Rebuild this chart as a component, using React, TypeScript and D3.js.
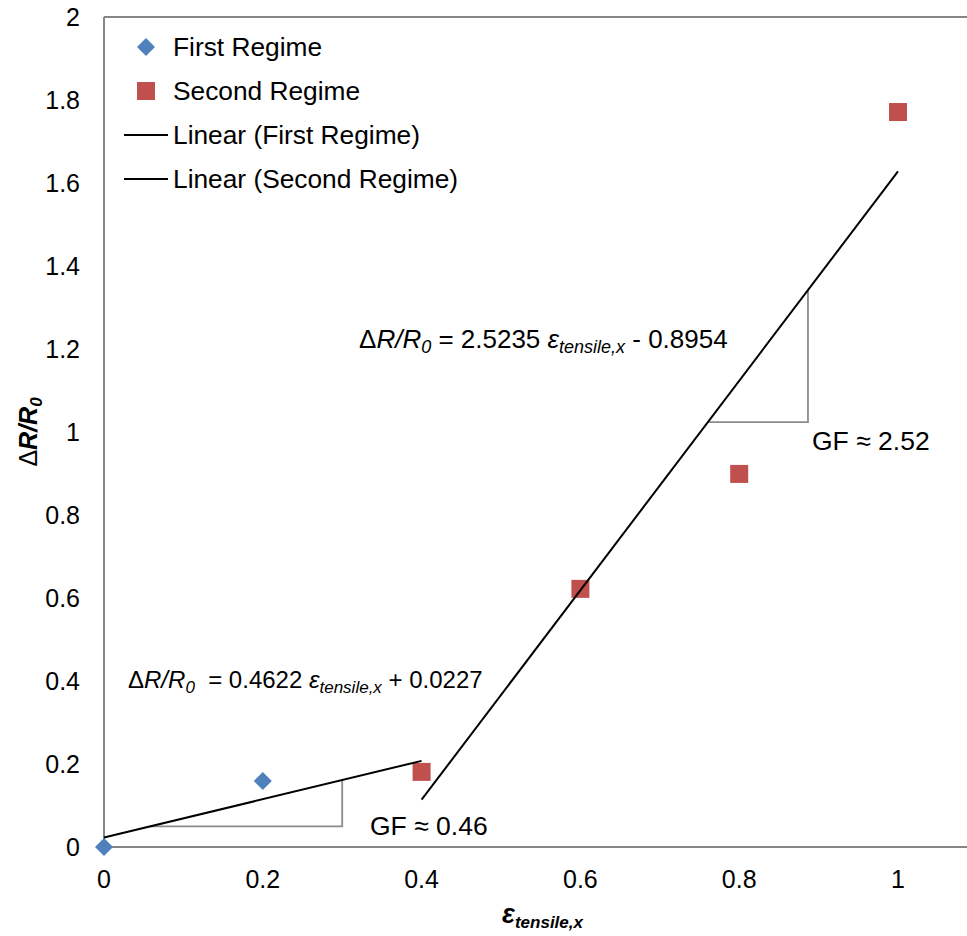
import React from "react";
import * as d3 from "d3";

const xTicks = [0, 0.2, 0.4, 0.6, 0.8, 1];
const yTicks = [0, 0.2, 0.4, 0.6, 0.8, 1, 1.2, 1.4, 1.6, 1.8, 2];

const firstX = [0, 0.2];
const firstY = [0, 0.159];
const secondX = [0.4, 0.6, 0.8, 1.0];
const secondY = [0.181, 0.622, 0.899, 1.771];

// trendlines: slope, intercept, x-range
const fit1 = { slope: 0.4622, intercept: 0.0227, x0: 0, x1: 0.4 };
const fit2 = { slope: 2.5235, intercept: -0.8954, x0: 0.4, x1: 1.0 };

// slope triangles: x start on the line, x end
const tri1 = { xa: 0.058, xb: 0.3 };
const tri2 = { xa: 0.7606, xb: 0.8866 };

const W = 967;
const H = 936;
const FONT = "'Liberation Sans', Arial, sans-serif";
const AXIS = "#868686";
const BLUE = "#4F81BD";
const RED = "#C0504D";

export default function App() {
  const x = d3.scaleLinear().domain([0, 1]).range([104, 898]);
  const y = d3.scaleLinear().domain([0, 2]).range([847, 17]);
  const line = d3
    .line<[number, number]>()
    .x((d) => x(d[0]))
    .y((d) => y(d[1]));
  const fitPts = (f: typeof fit1): [number, number][] => [
    [f.x0, f.slope * f.x0 + f.intercept],
    [f.x1, f.slope * f.x1 + f.intercept],
  ];
  const triPts = (f: typeof fit1, t: typeof tri1): [number, number][] => {
    const ya = f.slope * t.xa + f.intercept;
    const yb = f.slope * t.xb + f.intercept;
    return [
      [t.xa, ya],
      [t.xb, ya],
      [t.xb, yb],
    ];
  };
  const diamond = (cx: number, cy: number, r: number) =>
    `M${cx},${cy - r}L${cx + r},${cy}L${cx},${cy + r}L${cx - r},${cy}Z`;

  return (
    <svg
      width={W}
      height={H}
      style={{ position: "absolute", left: 0, top: 0, background: "#fff" }}
      fontFamily={FONT}
    >
      {/* frame / axes */}
      <line x1={x(0)} x2={W} y1={y(2)} y2={y(2)} stroke={AXIS} strokeWidth={2} />
      <line x1={x(0)} x2={W} y1={y(0)} y2={y(0)} stroke={AXIS} strokeWidth={2} />
      <line x1={x(0)} x2={x(0)} y1={y(2)} y2={y(0)} stroke={AXIS} strokeWidth={2} />

      {/* tick labels */}
      {xTicks.map((t) => (
        <text key={"x" + t} x={x(t)} y={888} fontSize={25} textAnchor="middle" fill="#000">
          {String(t)}
        </text>
      ))}
      {yTicks.map((t) => (
        <text key={"y" + t} x={80} y={y(t) + 9} fontSize={25} textAnchor="end" fill="#000">
          {String(+t.toFixed(1))}
        </text>
      ))}

      {/* axis titles */}
      <text x={502} y={923} fontSize={27} fontWeight="bold" fontStyle="italic" fill="#000">
        ε
        <tspan fontSize={17} dy={5}>tensile,x</tspan>
      </text>
      <text
        transform={`translate(37,432) rotate(-90)`}
        fontSize={25}
        textAnchor="middle"
        fill="#000"
      >
        <tspan>Δ</tspan>
        <tspan fontWeight="bold" fontStyle="italic">R/R</tspan>
        <tspan fontWeight="bold" fontStyle="italic" fontSize={17} dy={5}>0</tspan>
      </text>

      {/* slope triangles */}
      <path d={line(triPts(fit1, tri1))!} fill="none" stroke="#8c8c8c" strokeWidth={1.8} />
      <path d={line(triPts(fit2, tri2))!} fill="none" stroke="#8c8c8c" strokeWidth={1.8} />

      {/* markers */}
      {firstX.map((v, i) => (
        <path key={"f" + i} d={diamond(x(v), y(firstY[i]), 9)} fill={BLUE} />
      ))}
      {secondX.map((v, i) => (
        <rect key={"s" + i} x={x(v) - 9} y={y(secondY[i]) - 9} width={18} height={18} fill={RED} />
      ))}

      {/* trendlines */}
      <path d={line(fitPts(fit1))!} fill="none" stroke="#000" strokeWidth={2} />
      <path d={line(fitPts(fit2))!} fill="none" stroke="#000" strokeWidth={2} />

      {/* equations */}
      <text x={359} y={348} fontSize={26} fill="#000">
        <tspan>Δ</tspan>
        <tspan fontStyle="italic">R/R</tspan>
        <tspan fontStyle="italic" fontSize={18} dy={5}>0</tspan>
        <tspan dy={-5}> = 2.5235 </tspan>
        <tspan fontStyle="italic">ε</tspan>
        <tspan fontStyle="italic" fontSize={18} dy={5}>tensile,x</tspan>
        <tspan dy={-5}> - 0.8954</tspan>
      </text>
      <text x={128} y={688} fontSize={24} fill="#000" style={{ whiteSpace: "pre" }}>
        <tspan>Δ</tspan>
        <tspan fontStyle="italic">R/R</tspan>
        <tspan fontStyle="italic" fontSize={17} dy={5}>0</tspan>
        <tspan dy={-5}>{"  = 0.4622 "}</tspan>
        <tspan fontStyle="italic">ε</tspan>
        <tspan fontStyle="italic" fontSize={17} dy={5}>tensile,x</tspan>
        <tspan dy={-5}> + 0.0227</tspan>
      </text>
      <text x={370} y={835} fontSize={26.5} fill="#000">GF ≈ 0.46</text>
      <text x={812} y={450} fontSize={26.5} fill="#000">GF ≈ 2.52</text>

      {/* legend */}
      <path d={diamond(146, 47, 9)} fill={BLUE} />
      <text x={173} y={56} fontSize={26.3} fill="#000">First Regime</text>
      <rect x={137} y={82} width={18} height={18} fill={RED} />
      <text x={173} y={100} fontSize={26.3} fill="#000">Second Regime</text>
      <line x1={124} x2={168} y1={135} y2={135} stroke="#000" strokeWidth={2} />
      <text x={173} y={144} fontSize={26.3} fill="#000">Linear (First Regime)</text>
      <line x1={124} x2={168} y1={179} y2={179} stroke="#000" strokeWidth={2} />
      <text x={173} y={188} fontSize={26.3} fill="#000">Linear (Second Regime)</text>
    </svg>
  );
}
